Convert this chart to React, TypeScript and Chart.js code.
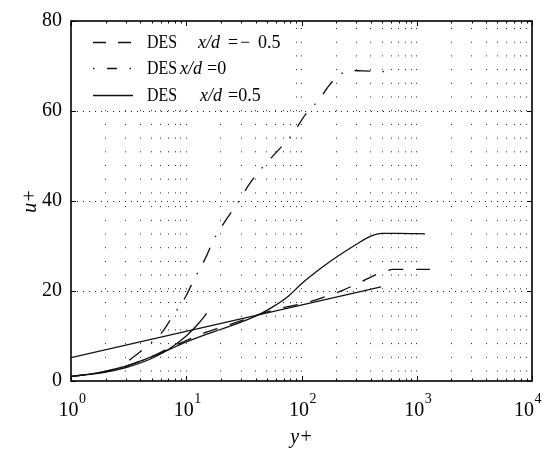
import React, { useEffect, useRef } from "react";
import { Chart, registerables } from "chart.js";

Chart.register(...registerables);

// ---- data ----
const legendLabels = ["DES x/d=− 0.5", "DES x/d=0", "DES x/d=0.5"];

// DES x/d = -0.5 (dashed)
const yPlusA = [1, 2, 3, 5, 7, 10, 14, 20, 30, 40, 60, 114, 160, 230, 315, 440, 550, 620, 1300];
const uPlusA = [1.0, 2.1, 3.3, 5.4, 7.2, 9.0, 10.6, 11.9, 13.4, 14.5, 15.9, 17.5, 18.7, 20.2, 21.8, 23.6, 24.5, 24.8, 24.8];

// DES x/d = 0 (dash-dot)
const yPlusB = [3.2, 4.2, 6.2, 7.5, 10, 11.4, 15, 17, 22.5, 27.5, 36, 45, 65, 82, 111, 141, 166, 195, 230, 265, 340, 450, 560];
const uPlusB = [4.6, 7.0, 10.9, 14.1, 19.0, 22.0, 27.8, 31.0, 36.1, 39.3, 44.1, 47.2, 51.7, 54.6, 59.6, 62.4, 65.0, 67.2, 68.5, 69.0, 68.9, 68.8, 68.7];

// DES x/d = 0.5 (solid)
const yPlusC = [1, 1.5, 2, 3, 4, 5.5, 7, 10, 15, 20, 30, 40, 55, 75, 100, 150, 200, 300, 400, 500, 700, 1180];
const uPlusC = [1.0, 1.6, 2.2, 3.3, 4.4, 5.8, 6.9, 8.7, 10.4, 11.5, 13.1, 14.4, 16.3, 18.6, 21.6, 25.2, 27.5, 30.4, 32.2, 32.8, 32.8, 32.7];

// log-law reference line (solid, unlabelled)
const yPlusLog = [1, 490];
const uPlusLog = [5.2, 20.9];

// viscous sublayer reference line (solid, unlabelled)
const yPlusVisc = [1, 2, 3, 4, 5, 7, 10, 13, 15];
const uPlusVisc = [1, 2, 3, 4, 5, 7, 10, 13, 15];

// axes
const xDecades = [1, 10, 100, 1000, 10000];
const xExponents = ["0", "1", "2", "3", "4"];
const xMinorSteps = [2, 3, 4, 5, 6, 7, 8, 9];
const yTickValues = [0, 20, 40, 60, 80];

const FONT = "'Liberation Serif', 'Times New Roman', serif";
const INK = "#111";

const toPts = (xs: number[], ys: number[]) => xs.map((x, i) => ({ x, y: ys[i] }));

const DASH = [15, 13];
const DASHDOT = [16, 12, 1.5, 12];

export default function App() {
  const ref = useRef<HTMLCanvasElement | null>(null);

  useEffect(() => {
    document.body.style.margin = "0";
    const canvas = ref.current;
    if (!canvas) return;

    const allXTicks: number[] = [];
    xDecades.forEach((d, i) => {
      allXTicks.push(d);
      if (i < xDecades.length - 1) xMinorSteps.forEach((m) => allXTicks.push(d * m));
    });

    const framePlugin = {
      id: "frame",
      afterDraw(chart: any) {
        const { ctx, chartArea: a, scales, width } = chart;
        const xs = scales.x;
        const ys = scales.y;
        ctx.save();
        // ticks inward
        ctx.strokeStyle = "#000";
        ctx.lineWidth = 1;
        allXTicks.forEach((v) => {
          const px = Math.round(xs.getPixelForValue(v)) + 0.5;
          const len = xDecades.includes(v) ? 5 : 2.5;
          ctx.beginPath();
          ctx.moveTo(px, a.bottom);
          ctx.lineTo(px, a.bottom - len);
          ctx.moveTo(px, a.top);
          ctx.lineTo(px, a.top + len);
          ctx.stroke();
        });
        yTickValues.forEach((v) => {
          const py = Math.round(ys.getPixelForValue(v)) + 0.5;
          ctx.beginPath();
          ctx.moveTo(a.left, py);
          ctx.lineTo(a.left + 5, py);
          ctx.moveTo(a.right, py);
          ctx.lineTo(a.right - 5, py);
          ctx.stroke();
        });
        // frame
        ctx.lineWidth = 1.6;
        ctx.strokeRect(a.left, a.top, a.right - a.left, a.bottom - a.top);

        // x tick labels 10^n
        ctx.fillStyle = "#000";
        ctx.textBaseline = "alphabetic";
        ctx.textAlign = "left";
        xDecades.forEach((v, i) => {
          const px = xs.getPixelForValue(v);
          ctx.font = `20px ${FONT}`;
          const w1 = ctx.measureText("10").width;
          ctx.font = `14px ${FONT}`;
          const w2 = ctx.measureText(xExponents[i]).width;
          let start = px - (w1 + w2) / 2 + 1;
          if (start + w1 + w2 + 4 > width) start = width - 4 - w1 - w2;
          ctx.font = `20px ${FONT}`;
          ctx.fillText("10", start, 416);
          ctx.font = `14px ${FONT}`;
          ctx.fillText(xExponents[i], start + w1 + 0.5, 403);
        });

        // legend
        ctx.fillStyle = "#fff";
        ctx.fillRect(a.left + 1, 26, 224, 83);
        const rows = [42, 68, 95];
        const dashes = [[13, 12], [1.5, 12.5, 10, 12.5], []];
        rows.forEach((y, i) => {
          ctx.save();
          ctx.strokeStyle = INK;
          ctx.lineWidth = 1.3;
          ctx.setLineDash(dashes[i]);
          ctx.beginPath();
          ctx.moveTo(93, y + 0.5);
          ctx.lineTo(133, y + 0.5);
          ctx.stroke();
          ctx.restore();
        });
        ctx.fillStyle = "#000";
        ctx.textBaseline = "middle";
        const norm = `18px ${FONT}`;
        const ital = `italic 18px ${FONT}`;
        const pieces: [string, string, number, number, number][] = [
          ["DES", norm, 147, 42, 30],
          ["x/d", ital, 198, 42, 29],
          ["=", norm, 228, 42, 10],
          ["−", norm, 240, 42, 12],
          ["0.5", norm, 258, 42, 24],
          ["DES", norm, 147, 68, 30],
          ["x/d", ital, 180, 68, 27],
          ["=0", norm, 207, 68, 30],
          ["DES", norm, 147, 95, 30],
          ["x/d", ital, 200, 95, 27],
          ["=0.5", norm, 228, 95, 41],
        ];
        pieces.forEach(([t, f, x, y, mw]) => {
          ctx.font = f;
          ctx.fillText(t, x, y + 1, mw);
        });
        ctx.restore();
      },
    };

    const lineDs = (label: string, xs: number[], ys: number[], dash: number[]) => ({
      label,
      data: toPts(xs, ys),
      borderColor: INK,
      borderWidth: 1.3,
      borderDash: dash,
      pointRadius: 0,
      fill: false,
      tension: 0.35,
      cubicInterpolationMode: "monotone" as const,
    });

    const chart = new Chart(canvas, {
      type: "line",
      data: {
        datasets: [
          lineDs(legendLabels[0], yPlusA, uPlusA, DASH),
          lineDs(legendLabels[1], yPlusB, uPlusB, DASHDOT),
          lineDs(legendLabels[2], yPlusC, uPlusC, []),
          lineDs("log law", yPlusLog, uPlusLog, []),
          lineDs("viscous", yPlusVisc, uPlusVisc, []),
        ],
      },
      options: {
        responsive: false,
        animation: false,
        layout: { padding: { top: 13, right: 13, left: 0, bottom: 0 } },
        plugins: { legend: { display: false }, tooltip: { enabled: false } },
        scales: {
          x: {
            type: "logarithmic",
            min: 1,
            max: 10000,
            afterBuildTicks: (s: any) => {
              s.ticks = allXTicks.map((v) => ({ value: v }));
            },
            afterFit: (s: any) => {
              s.height = 72;
            },
            ticks: { display: false },
            border: { display: false, dash: [1, 12.7], dashOffset: 6.7 },
            grid: {
              drawTicks: false,
              lineWidth: 1,
              color: (c: any) =>
                c.tick && (c.tick.value === 1 || c.tick.value === 10000) ? "rgba(0,0,0,0)" : "#222",
            },
            title: {
              display: true,
              text: "y+",
              font: { family: FONT, size: 20, style: "italic" },
              color: "#000",
              padding: { top: 0, bottom: 3 },
            },
          },
          y: {
            type: "linear",
            min: 0,
            max: 80,
            ticks: {
              stepSize: 20,
              padding: 9,
              color: "#000",
              font: { family: FONT, size: 20 },
            },
            afterFit: (s: any) => {
              s.width = 71;
            },
            border: { display: false, dash: [1, 5] },
            grid: {
              drawTicks: false,
              lineWidth: 1,
              color: (c: any) =>
                c.tick && (c.tick.value === 0 || c.tick.value === 80) ? "rgba(0,0,0,0)" : "#222",
            },
            title: {
              display: true,
              text: "u+",
              font: { family: FONT, size: 20, style: "italic" },
              color: "#000",
              padding: { top: 19, bottom: 0 },
            },
          },
        },
      },
      plugins: [framePlugin],
    });

    return () => chart.destroy();
  }, []);

  return <canvas ref={ref} width={545} height={453} style={{ display: "block" }} />;
}
